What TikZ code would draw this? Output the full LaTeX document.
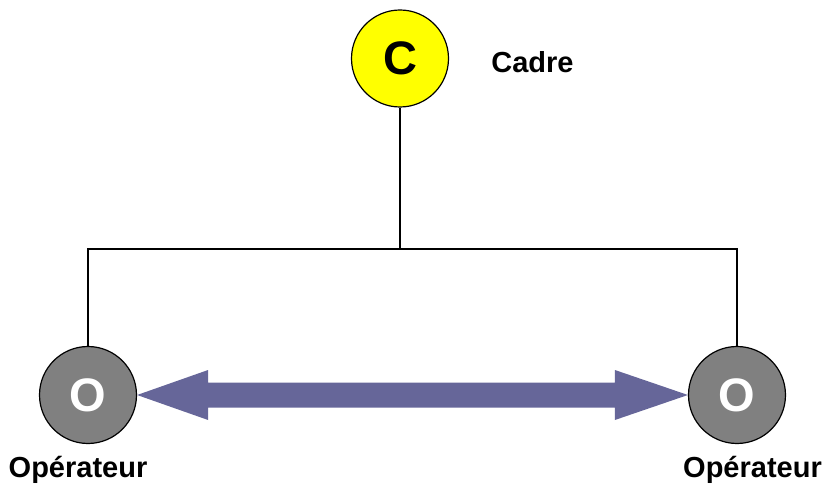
\documentclass[tikz,border=0pt]{standalone}
\usepackage{fontspec}
\setmainfont{Liberation Sans}
\usetikzlibrary{calc}
\definecolor{cadrefill}{HTML}{FFFF00}
\definecolor{opfill}{HTML}{808080}
\definecolor{arrowfill}{HTML}{666699}
\tikzset{
  role/.style={circle, draw=black, line width=1.2pt, minimum size=97pt, inner sep=0pt,
    font=\fontsize{47}{47}\selectfont\bfseries},
  label/.style={font=\fontsize{29}{29}\selectfont\bfseries, inner sep=0pt},
  link/.style={draw=black, line width=1.2pt},
}
\begin{document}
\begin{tikzpicture}[x=1pt, y=-1pt]
  \useasboundingbox (0,0) rectangle (825,489);
  % roles
  \node[role, fill=cadrefill, text=black] (C) at (400,58.5) {C};
  \node[role, fill=opfill, text=white] (O1) at (88,395) {O};
  \node[role, fill=opfill, text=white] (O2) at (737,395) {O};
  % names
  \node[label] (lc) at (532.5,62) {Cadre};
  \node[label] (l1) at (78,470) {Opérateur};
  \node[label] (l2) at (752.5,470) {Opérateur};
  % hierarchy lines
  \coordinate (j) at (400,249);
  \draw[link] (C.south) -- (j);
  \draw[link] (O1.north) |- (j) -| (O2.north);
  % two-way exchange arrow
  \fill[arrowfill] (O1.east)
    -- ($(O1.east)+(71,-25)$) -- ($(O1.east)+(71,-12.5)$)
    -- ($(O2.west)+(-73,-12.5)$) -- ($(O2.west)+(-73,-25)$)
    -- (O2.west)
    -- ($(O2.west)+(-73,25)$) -- ($(O2.west)+(-73,12.5)$)
    -- ($(O1.east)+(71,12.5)$) -- ($(O1.east)+(71,25)$) -- cycle;
\end{tikzpicture}
\end{document}
